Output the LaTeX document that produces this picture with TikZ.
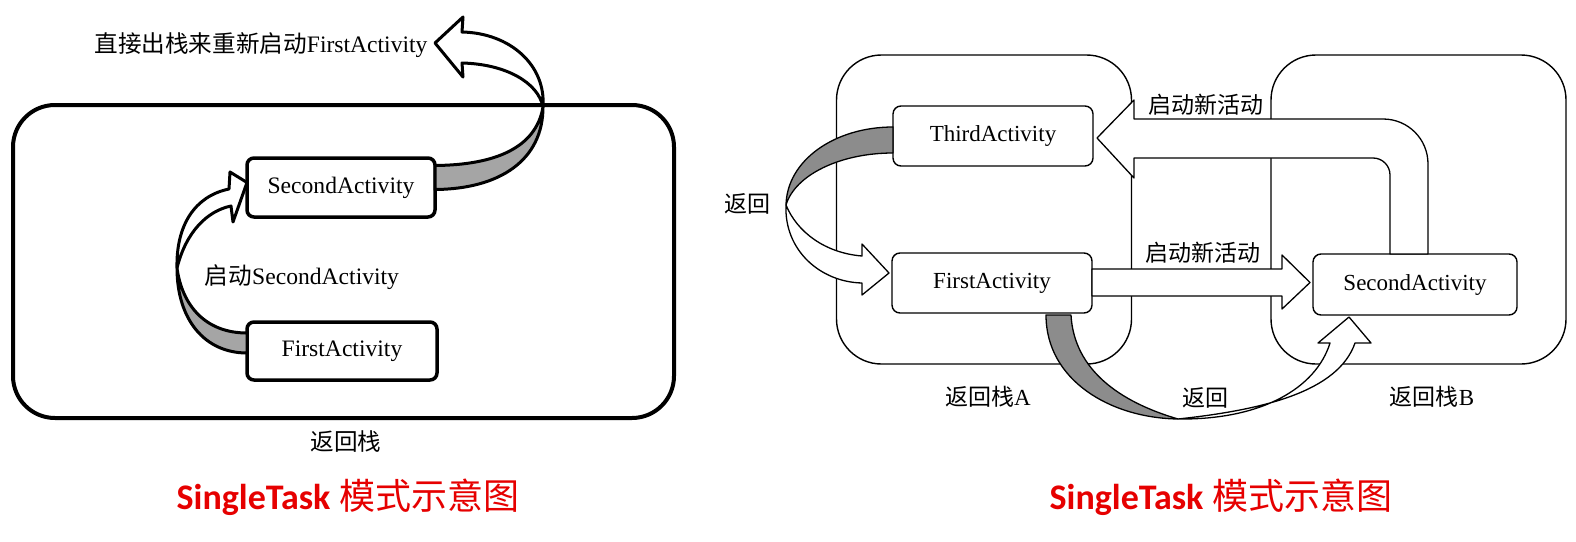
\documentclass[tikz,border=0pt]{standalone}
\usepackage{fontspec}
\setmainfont{Liberation Serif}
\newfontfamily\cjk{Noto Sans CJK SC}
\newfontfamily\capsans{Carlito}
\usetikzlibrary{calc}
\definecolor{capred}{RGB}{230,0,0}
\definecolor{ribgrayL}{RGB}{165,165,165}
\definecolor{ribgrayR}{RGB}{140,140,140}
\newcommand{\lblfont}{\fontsize{23}{27}\selectfont}
\newcommand{\lblfontL}{\fontsize{23.6}{28}\selectfont}
\newcommand{\capfont}{\fontsize{36}{40}\selectfont}
\begin{document}
\begin{tikzpicture}[x=1pt,y=-1pt,
  stackL/.style={draw, line width=4pt, rounded corners=42pt, minimum width=661pt, minimum height=313pt, inner sep=0pt, outer sep=0pt},
  actL/.style={draw, line width=3.5pt, rounded corners=7pt, fill=white, minimum width=190pt, minimum height=58pt, inner sep=0pt, outer sep=0pt, font=\lblfontL},
  stackR/.style={draw, line width=1.4pt, rounded corners=45pt, minimum width=295pt, minimum height=309pt, inner sep=0pt, outer sep=0pt},
  actR/.style={draw, line width=1.4pt, rounded corners=8pt, fill=white, minimum width=200pt, minimum height=60pt, inner sep=0pt, outer sep=0pt, font=\lblfont},
  lbl/.style={inner sep=0pt, font=\lblfont},
  lblL/.style={inner sep=0pt, font=\lblfontL},
  ribL/.style={draw, line width=3pt, line join=round, fill=white},
  ribLg/.style={ribL, fill=ribgrayL},
  ribR/.style={draw, line width=1.3pt, line join=round, fill=white},
  ribRg/.style={ribR, fill=ribgrayR},
  caption/.style={inner sep=0pt, text=capred, font=\capfont}
]
\fill[white] (0,0) rectangle (1576,541);
\useasboundingbox (0,0) rectangle (1576,541);

% ---------------- left diagram ----------------
\node[stackL] (stackL) at (343.5,261.5) {};
\node[lblL] (stackLlbl) at (346,442) {\cjk 返回栈};
\node[lblL] (topLbl) at (261,45) {{\cjk 直接出栈来重新启动}FirstActivity};
\coordinate (topTip) at (435,43);
\node[lblL] (startLbl) at (302,277) {{\cjk 启动}SecondActivity};

\node[actL] (firstL) at (342,351) {FirstActivity};
\node[actL, minimum width=188pt, minimum height=59pt] (secondL) at (341,187.5) {SecondActivity};

% FirstActivity -> SecondActivity
\draw[ribLg] ($(firstL.west)+(0,2)$) .. controls (205,353) and (177,320) .. (177,268)
   .. controls (182,305) and (205,333) .. ($(firstL.west)+(0,-18)$) -- cycle;
\draw[ribL] (177,268) .. controls (176,225) and (195,196) .. (229,189) -- (230,172)
   -- ($(secondL.west)+(0,-5)$) -- (233,222) -- (231,206)
   .. controls (207,211) and (186,232) .. (177,268) -- cycle;

% SecondActivity -> top
\draw[ribLg] ($(secondL.east)+(0,2)$) .. controls (500,189) and (543,160) .. (543,107)
   .. controls (536,148) and (495,165) .. ($(secondL.east)+(0,-22)$) -- cycle;
\draw[ribL] (543,107) .. controls (546,65) and (510,33) .. (462,32) -- (463,17)
   -- (topTip) -- (463,77) -- (462,63)
   .. controls (505,64) and (538,82) .. (543,107) -- cycle;

% ---------------- right diagram ----------------
\node[stackR] (stackA) at (984,209.5) {};
\node[stackR] (stackB) at (1418.5,209.5) {};

\node[actR] (third) at (993,136) {ThirdActivity};
\node[actR] (firstR) at (992,283) {FirstActivity};
\node[actR, minimum width=204pt, minimum height=61pt] (secondR) at (1415,284.5) {SecondActivity};

% FirstActivity -> SecondActivity (straight)
\draw[ribR] ($(firstR.east)+(0,-14)$) -- (1282,269) -- (1282,255) -- ($(secondR.west)+(-3,-2)$)
   -- (1282,309) -- (1282,296) -- ($(firstR.east)+(0,13)$) -- cycle;

% SecondActivity -> ThirdActivity (bent)
\draw[ribR] ($(secondR.north)+(-25,0)$) -- (1390,175) .. controls (1390,165.6) and (1382.4,158) .. (1373,158)
   -- (1134,158) -- (1134,178) -- ($(third.east)+(4,2)$) -- (1134,100) -- (1134,119) -- (1383,119)
   .. controls (1408,119) and (1428,139) .. (1428,164) -- ($(secondR.north)+(13,0)$) -- cycle;

% ThirdActivity -> FirstActivity (return)
\draw[ribRg] ($(third.west)+(0,-9)$) .. controls (835,127) and (787,160) .. (786,205)
   .. controls (795,175) and (840,153) .. ($(third.west)+(0,17)$) -- cycle;
\draw[ribR] (786,205) .. controls (784,250) and (820,282) .. (862,283) -- (862,295)
   -- ($(firstR.west)+(-3,-10)$) -- (862,244) -- (862,256)
   .. controls (825,253) and (797,232) .. (786,205) -- cycle;

% FirstActivity -> SecondActivity (return, bottom)
\draw[ribRg] ($(firstR.south)+(54,2)$) .. controls (1046,380) and (1110,418) .. (1178,419)
   .. controls (1120,402) and (1074,370) .. ($(firstR.south)+(79,2)$) -- cycle;
\draw[ribR] (1178,419) .. controls (1262,420) and (1316,388) .. (1330,343) -- (1318,343)
   -- ($(secondR.south)+(-66,2)$) -- (1371,343) -- (1355,343)
   .. controls (1338,392) and (1262,410) .. (1178,419) -- cycle;

\node[lbl] (retL) at (747,204) {\cjk 返回};
\node[lbl] (newTop) at (1206,105) {\cjk 启动新活动};
\node[lbl] (newMid) at (1203,253) {\cjk 启动新活动};
\node[lbl] (stackAlbl) at (988,397) {{\cjk 返回栈}A};
\node[lbl] (retB) at (1205,398) {\cjk 返回};
\node[lbl] (stackBlbl) at (1432,397) {{\cjk 返回栈}B};

% ---------------- captions ----------------
\node[caption] (capL) at (348,497) {{\capsans\bfseries SingleTask} {\cjk 模式示意图}};
\node[caption] (capR) at (1221,497) {{\capsans\bfseries SingleTask} {\cjk 模式示意图}};
\end{tikzpicture}
\end{document}
